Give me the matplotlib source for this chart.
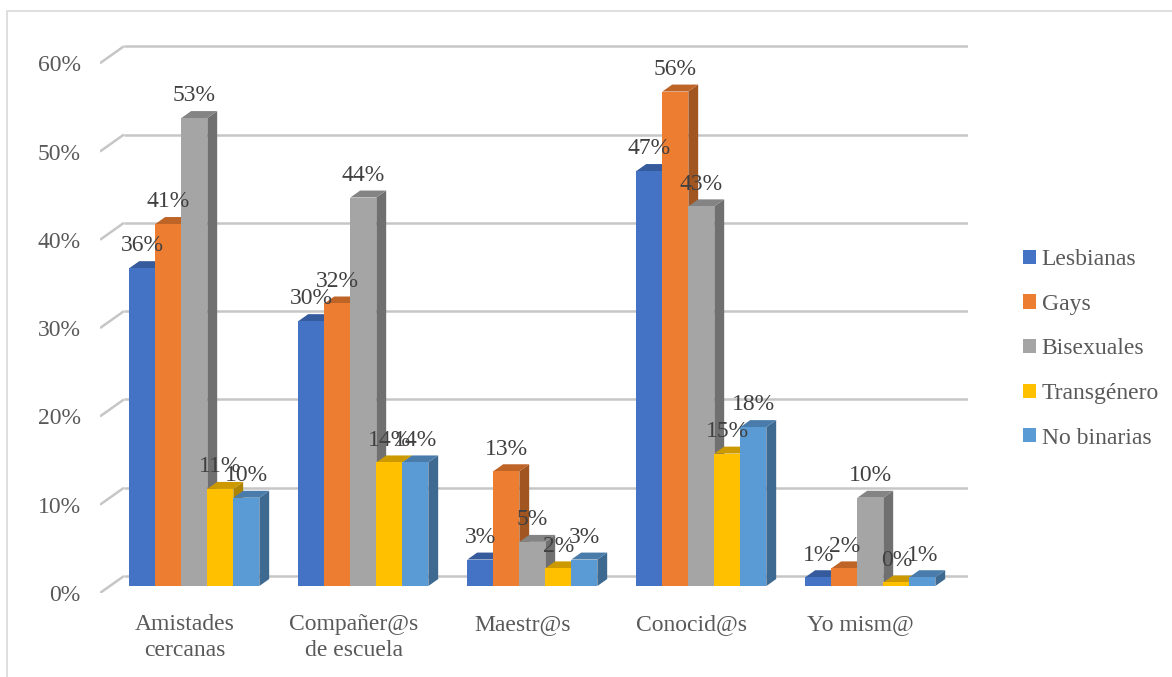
import numpy as np
import matplotlib
matplotlib.use('Agg')
import matplotlib.pyplot as plt
from matplotlib.patches import Polygon, Patch, Rectangle
from matplotlib.colors import to_rgb

# Datos
categories = ['Amistades\ncercanas', 'Compañer@s\nde escuela', 'Maestr@s', 'Conocid@s', 'Yo mism@']
series_names = ['Lesbianas', 'Gays', 'Bisexuales', 'Transgénero', 'No binarias']
lesbianas = [36, 30, 3, 47, 1]
gays = [41, 32, 13, 56, 2]
bisexuales = [53, 44, 5, 43, 10]
transgenero = [11, 14, 2, 15, 0.4]
no_binarias = [10, 14, 3, 18, 1]
yticks = [0, 10, 20, 30, 40, 50, 60]

series = [lesbianas, gays, bisexuales, transgenero, no_binarias]
colors = ['#4472c4', '#ed7d31', '#a5a5a5', '#ffc000', '#5b9bd5']

plt.rcParams['font.family'] = ['Liberation Serif', 'DejaVu Serif']

W, H = 1172, 677
PX_X = 169.0    # pixeles por categoría
PX_Y = 8.83     # pixeles por punto porcentual

fig = plt.figure(figsize=(W / 100, H / 100), dpi=100)
ax = fig.add_axes([100 / W, 84 / H, 868 / W, 548 / H])
ax.set_xlim(-0.5, -0.5 + 868 / PX_X)
ax.set_ylim(0, 548 / PX_Y)
for s in ax.spines.values():
    s.set_visible(False)

# profundidad de la pared del fondo (unidades de datos)
dxw = 24 / PX_X
dyw = 17 / PX_Y
f1, f2 = 0.41, 0.82   # profundidad frontal y trasera de las barras

grid_col = '#c6c6c6'
for g in yticks:
    ax.plot([-0.5, -0.5 + dxw], [g, g + dyw], color=grid_col, lw=1.8, zorder=1,
            solid_capstyle='butt')
    ax.plot([-0.5 + dxw, 4.5 + dxw], [g + dyw, g + dyw], color=grid_col, lw=1.8,
            zorder=1, solid_capstyle='butt')


def shade(c, k):
    r, g, b = to_rgb(c)
    return (r * k, g * k, b * k)


bw = 26 / PX_X
bdx = (f2 - f1) * dxw
bdy = (f2 - f1) * dyw
x = np.arange(len(categories))
z = 2
for ci in range(len(categories)):
    for si, vals in enumerate(series):
        v = vals[ci]
        xc = x[ci] + f1 * dxw + (si - 2) * bw
        base = f1 * dyw
        xl, xr = xc - bw / 2, xc + bw / 2
        top = base + v
        side = Polygon([(xr, base), (xr + bdx, base + bdy), (xr + bdx, top + bdy), (xr, top)],
                       closed=True, facecolor=shade(colors[si], 0.68), edgecolor='none', zorder=z)
        ax.add_patch(side)
        topf = Polygon([(xl, top), (xr, top), (xr + bdx, top + bdy), (xl + bdx, top + bdy)],
                       closed=True, facecolor=shade(colors[si], 0.8), edgecolor='none', zorder=z)
        ax.add_patch(topf)
        ax.bar(xc, v, bw, bottom=base, color=colors[si], edgecolor='none', zorder=z + 0.5)
        z += 1
        ax.annotate(f'{round(v)}%', (xc, top), xytext=(0, 12), textcoords='offset points',
                    ha='center', va='baseline', fontsize=17, color='#404040', zorder=200)

ax.set_yticks(yticks, [f'{t}%' for t in yticks])
ax.set_xticks(x, categories)
ax.tick_params(axis='y', length=0, pad=14, labelsize=17, labelcolor='#595959')
ax.tick_params(axis='x', length=0, pad=15, labelsize=17, labelcolor='#595959')
for lab in ax.get_xticklabels():
    lab.set_linespacing(1.3)

handles = [Patch(facecolor=c, edgecolor='none') for c in colors]
fig.legend(handles, series_names, loc='center left', bbox_to_anchor=(1011 / W, 1 - 349 / H),
           frameon=False, fontsize=17, handlelength=0.55, handleheight=0.55,
           handletextpad=0.25, labelspacing=1.0, borderpad=0, labelcolor='#595959')

fig.patches.append(Rectangle((7 / W, -0.1), 1.2, (H - 11) / H + 0.1, transform=fig.transFigure,
                             fill=False, edgecolor='#d9d9d9', lw=1.2))

fig.savefig('out.png', dpi=100)
